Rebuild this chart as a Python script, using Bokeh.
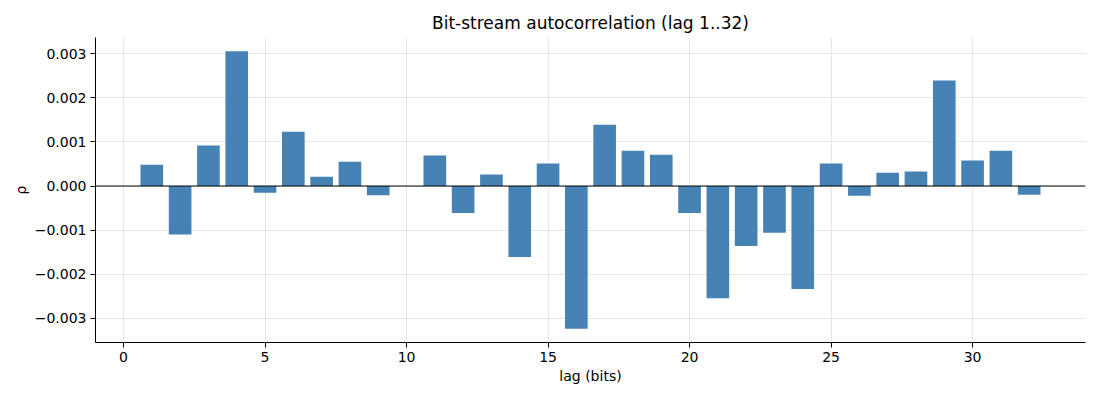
from bokeh.plotting import figure
from bokeh.models import Range1d, FixedTicker, CustomJSTickFormatter, Span
from bokeh.embed import file_html
from bokeh.resources import INLINE

lags = list(range(1, 33))
rho = [0.00048, -0.00110, 0.00092, 0.00305, -0.00015, 0.00123, 0.00021, 0.00055,
       -0.00021, 0.00000, 0.00069, -0.00061, 0.00026, -0.00161, 0.00051, -0.00323,
       0.00139, 0.00080, 0.00071, -0.00061, -0.00254, -0.00136, -0.00106, -0.00233,
       0.00051, -0.00022, 0.00030, 0.00033, 0.00239, 0.00058, 0.00080, -0.00020]
x_ticks = [0, 5, 10, 15, 20, 25, 30]
y_ticks = [-0.003, -0.002, -0.001, 0.0, 0.001, 0.002, 0.003]
title_text = "Bit-stream autocorrelation (lag 1..32)"
x_label = "lag (bits)"
y_label = "ρ"

bar_w = 0.8
x0, x1 = lags[0] - bar_w / 2, lags[-1] + bar_w / 2
xp = 0.05 * (x1 - x0)
y0, y1 = min(min(rho), 0), max(max(rho), 0)
yp = 0.05 * (y1 - y0)

FONT = "DejaVu Sans"

p = figure(width=1100, height=400, output_backend="svg", toolbar_location=None,
           x_range=Range1d(x0 - xp, x1 + xp), y_range=Range1d(y0 - yp, y1 + yp),
           title=title_text)
p.min_border_left = 95
p.min_border_right = 15
p.min_border_top = 37
p.min_border_bottom = 58
p.outline_line_color = None
p.background_fill_color = "white"
p.border_fill_color = "white"

p.title.align = "center"
p.title.text_font = FONT
p.title.text_font_size = "17px"
p.title.text_font_style = "normal"
p.title.text_color = "black"

p.vbar(x=lags, top=rho, bottom=0, width=bar_w, color="#4682b4", line_color=None)
p.add_layout(Span(location=0, dimension="width", line_color="black", line_width=1))

p.xaxis.ticker = FixedTicker(ticks=x_ticks)
p.yaxis.ticker = FixedTicker(ticks=y_ticks)
p.yaxis.formatter = CustomJSTickFormatter(code="return (tick < 0 ? '\u2212' : '') + Math.abs(tick).toFixed(3);")

for ax in (p.xaxis, p.yaxis):
    ax.axis_line_color = "black"
    ax.axis_line_width = 1
    ax.major_tick_line_color = "black"
    ax.major_tick_out = 5
    ax.major_tick_in = 0
    ax.minor_tick_line_color = None
    ax.major_label_text_font = FONT
    ax.major_label_text_font_size = "14px"
    ax.major_label_text_color = "black"
    ax.major_label_standoff = 4
    ax.axis_label_text_font = FONT
    ax.axis_label_text_font_size = "14px"
    ax.axis_label_text_font_style = "normal"
    ax.axis_label_text_color = "black"
    ax.axis_label_standoff = 3

p.xaxis.axis_label = x_label
p.yaxis.axis_label = y_label

p.grid.grid_line_color = "#b0b0b0"
p.grid.grid_line_alpha = 0.3
p.grid.grid_line_width = 1

open("out.html", "w").write(file_html(p, INLINE))
